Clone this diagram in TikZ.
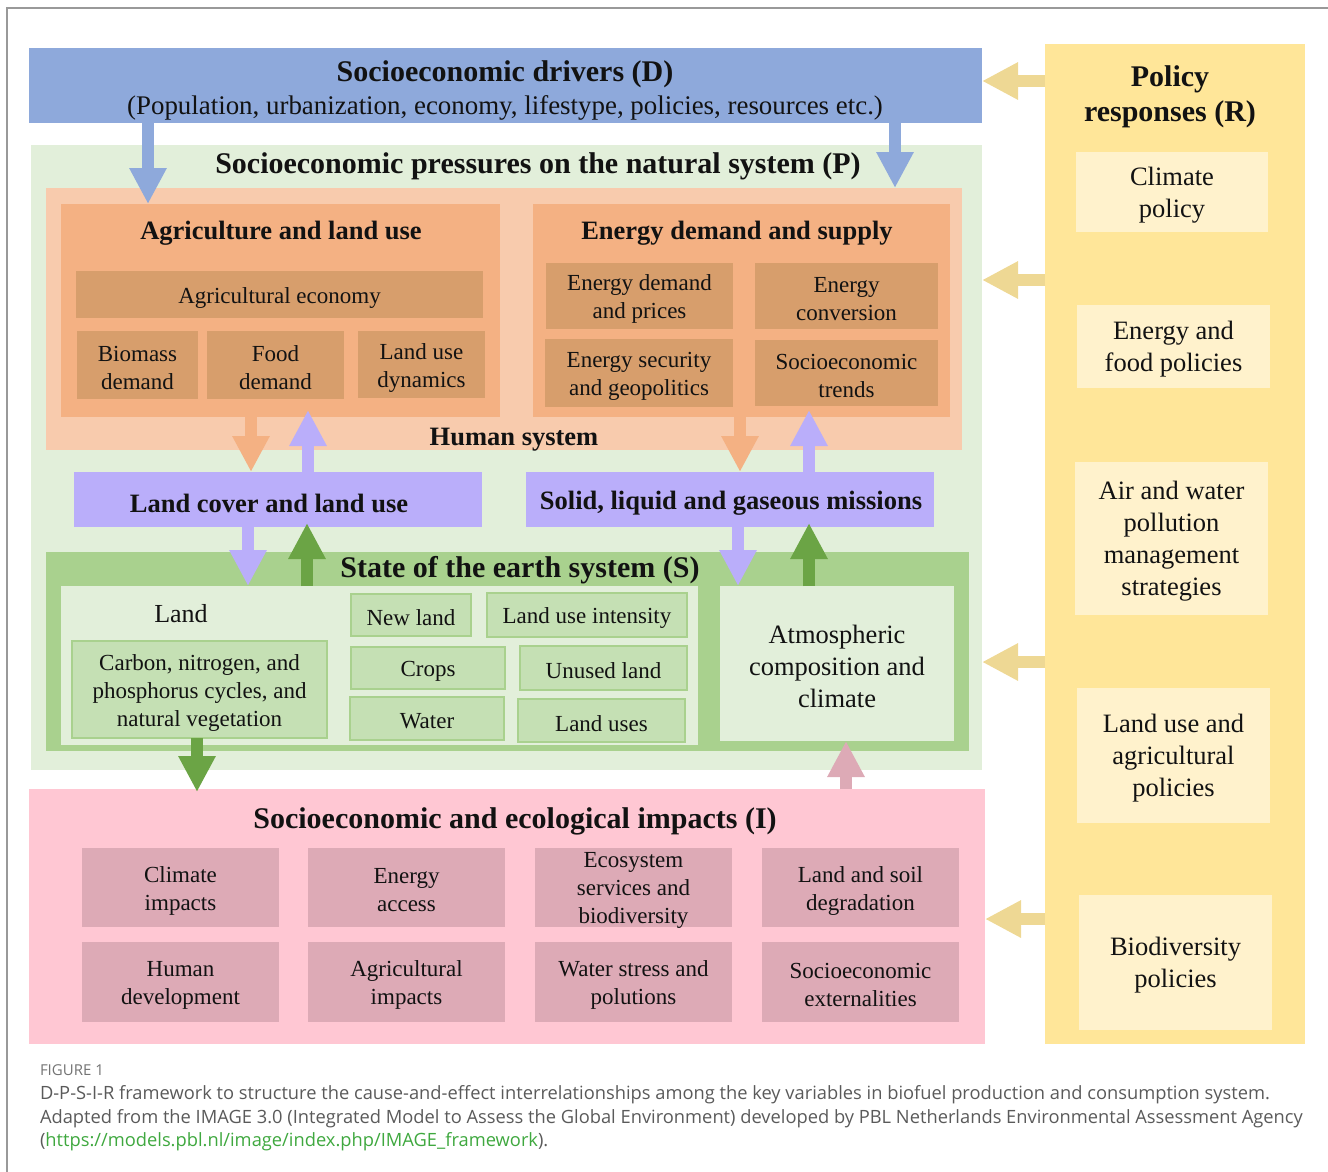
\documentclass[tikz,border=0pt]{standalone}
\usepackage{fontspec}
\setmainfont{Liberation Serif}
\newfontfamily\capfont{Open Sans}
\usetikzlibrary{arrows.meta}
\definecolor{cblue}{HTML}{8EA9DB}
\definecolor{clgreen}{HTML}{E2EFDA}
\definecolor{cpeach}{HTML}{F8CBAD}
\definecolor{corange}{HTML}{F4B183}
\definecolor{cbrown}{HTML}{D79E6C}
\definecolor{cpurple}{HTML}{BAAEFA}
\definecolor{cstate}{HTML}{A9D18E}
\definecolor{cgbox}{HTML}{C5E0B4}
\definecolor{cgarrow}{HTML}{6BA445}
\definecolor{cpink}{HTML}{FFC7D3}
\definecolor{cpinkbox}{HTML}{DDAAB6}
\definecolor{cpol}{HTML}{FFE699}
\definecolor{cpolbox}{HTML}{FFF2CC}
\definecolor{cyarrow}{HTML}{EED894}
\definecolor{clink}{HTML}{3FA83F}
\definecolor{ccap}{HTML}{5A5A5A}
% box: #1 box style, #2 text style, #3 name, #4-#7 corners, #8 text
\newcommand\bx[8]{\node[#1,anchor=north west,minimum width={(#6-#4)*1pt},minimum height={(#7-#5)*1pt}] (#3) at (#4,#5) {};
  \node[#2] (#3t) at ([yshift=-3pt]#3.center) {#8};}
\tikzset{
  every node/.style={inner sep=0pt,outer sep=0pt,align=center,text=black!93},
  smalltxt/.style={font=\fontsize{23}{28}\selectfont},
  midtxt/.style={font=\fontsize{26.5}{32}\selectfont},
  subtitle/.style={font=\fontsize{26.5}{32}\selectfont\bfseries},
  bigtitle/.style={font=\fontsize{30}{35}\selectfont\bfseries},
  brownbox/.style={fill=cbrown},
  greenbox/.style={fill=cgbox,draw=cstate,line width=1.6pt},
  pinkbox/.style={fill=cpinkbox},
  polbox/.style={fill=cpolbox},
  barrow/.style={line width=12pt,-{Triangle[width=35pt,length=36pt]}},
  captxt/.style={anchor=west,font=\capfont\fontsize{18.3}{22}\selectfont,text=ccap},
}
\begin{document}
\begin{tikzpicture}[x=1pt,y=-1pt]
\useasboundingbox (0,0) rectangle (1328,1171);
\begin{scope}
\clip (0,0) rectangle (1328,1171);
\draw[color=black!40,line width=1.5pt] (7,8) rectangle (1360,1200);
\end{scope}
% main boxes
\node[fill=cblue,anchor=north west,minimum width=953pt,minimum height=75pt] (drivers) at (29,48) {};
\node[fill=cpol,anchor=north west,minimum width=260pt,minimum height=1000pt] (policy) at (1045,44) {};
\node[fill=clgreen,anchor=north west,minimum width=951pt,minimum height=625pt] (pbox) at (31,145) {};
\node[fill=cpeach,anchor=north west,minimum width=916pt,minimum height=262pt] (human) at (46,188) {};
\node[fill=corange,anchor=north west,minimum width=439pt,minimum height=213pt] (agri) at (61,204) {};
\node[fill=corange,anchor=north west,minimum width=417pt,minimum height=213pt] (energy) at (533,204) {};
\node[fill=cpurple,anchor=north west,minimum width=408pt,minimum height=55pt] (landcover) at (74,472) {};
\node[fill=cpurple,anchor=north west,minimum width=408pt,minimum height=55pt] (solid) at (526,472) {};
\node[fill=cstate,anchor=north west,minimum width=923pt,minimum height=199pt] (state) at (46,552) {};
\node[fill=clgreen,anchor=north west,minimum width=637pt,minimum height=159pt] (landpanel) at (61,586) {};
\bx{fill=clgreen}{midtxt}{atm}{720}{586}{954}{741}{Atmospheric\\composition and\\climate}
\node[fill=cpink,anchor=north west,minimum width=956pt,minimum height=255pt] (impacts) at (29,789) {};
% titles
\node[bigtitle] (dtitle) at (505,74) {Socioeconomic drivers (D)};
\node[font=\fontsize{26.9}{32}\selectfont] (dsub) at (505,108) {(Population, urbanization, economy, lifestype, policies, resources etc.)};
\node[bigtitle] (ptitle) at (538,166) {Socioeconomic pressures on the natural system (P)};
\node[subtitle] (htitle) at (514,440) {Human system};
\node[subtitle] (atitle) at (281,233) {Agriculture and land use};
\node[subtitle] (etitle) at (737,233) {Energy demand and supply};
\node[subtitle] (lctitle) at (269,503) {Land cover and land use};
\node[subtitle] (sotitle) at (731,503) {Solid, liquid and gaseous missions};
\node[bigtitle] (stitle) at (520,570) {State of the earth system (S)};
\node[bigtitle] (ititle) at (515,821) {Socioeconomic and ecological impacts (I)};
\node[bigtitle] (rtitle) at (1170,97) {Policy\\responses (R)};
\node[font=\fontsize{26}{30}\selectfont] (landlbl) at (181,614) {Land};
% agriculture inner
\bx{brownbox}{smalltxt}{agecon}{76}{271}{483}{318}{Agricultural economy}
\bx{brownbox}{smalltxt}{biomass}{77}{331}{198}{399}{Biomass\\demand}
\bx{brownbox}{smalltxt}{food}{207}{331}{344}{399}{Food\\demand}
\bx{brownbox}{smalltxt}{lud}{358}{331}{485}{398}{Land use\\dynamics}
% energy inner
\bx{brownbox}{smalltxt}{edp}{546}{263}{733}{329}{Energy demand\\and prices}
\bx{brownbox}{smalltxt}{econv}{755}{263}{938}{329}{Energy\\conversion}
\bx{brownbox}{smalltxt}{esec}{545}{339}{733}{407}{Energy security\\and geopolitics}
\bx{brownbox}{smalltxt}{setr}{755}{340}{938}{406}{Socioeconomic\\trends}
% state inner
\bx{greenbox}{smalltxt}{carbon}{72}{641}{327}{738}{Carbon, nitrogen, and\\phosphorus cycles, and\\natural vegetation}
\bx{greenbox}{smalltxt}{newland}{351}{594}{471}{636}{New land}
\bx{greenbox}{smalltxt}{lui}{487}{593}{687}{637}{Land use intensity}
\bx{greenbox}{smalltxt}{crops}{351}{647}{505}{689}{Crops}
\bx{greenbox}{smalltxt}{unused}{520}{646}{687}{690}{Unused land}
\bx{greenbox}{smalltxt}{water}{350}{697}{504}{740}{Water}
\bx{greenbox}{smalltxt}{landuses}{518}{699}{685}{742}{Land uses}
% impacts inner
\bx{pinkbox}{smalltxt}{climimp}{82}{848}{279}{927}{Climate\\impacts}
\bx{pinkbox}{smalltxt}{eacc}{308}{848}{505}{927}{Energy\\access}
\bx{pinkbox}{smalltxt}{ecos}{535}{848}{732}{927}{Ecosystem\\services and\\biodiversity}
\bx{pinkbox}{smalltxt}{lsd}{762}{848}{959}{927}{Land and soil\\degradation}
\bx{pinkbox}{smalltxt}{humdev}{82}{942}{279}{1022}{Human\\development}
\bx{pinkbox}{smalltxt}{agimp}{308}{942}{505}{1022}{Agricultural\\impacts}
\bx{pinkbox}{smalltxt}{wsp}{535}{942}{732}{1022}{Water stress and\\polutions}
\bx{pinkbox}{smalltxt}{sext}{762}{942}{959}{1022}{Socioeconomic\\externalities}
% policy inner
\bx{polbox}{midtxt}{climp}{1076}{152}{1268}{232}{Climate\\policy}
\bx{polbox}{midtxt}{efp}{1077}{305}{1270}{388}{Energy and\\food policies}
\bx{polbox}{midtxt}{awp}{1075}{462}{1268}{615}{Air and water\\pollution\\management\\strategies}
\bx{polbox}{midtxt}{luap}{1077}{688}{1270}{823}{Land use and\\agricultural\\policies}
\bx{polbox}{midtxt}{biop}{1079}{895}{1272}{1030}{Biodiversity\\policies}
% arrows
\draw[barrow,cblue] ([xshift=119pt]drivers.south west) -- ([xshift=87pt]agri.north west);
\draw[barrow,cblue] ([xshift=866pt]drivers.south west) -- ([xshift=849pt]human.north west);
\draw[barrow,corange] ([xshift=190pt]agri.south west) -- ([xshift=177pt]landcover.north west);
\draw[barrow,cpurple] ([xshift=234pt]landcover.north west) -- ([xshift=247pt,yshift=7pt]agri.south west);
\draw[barrow,corange] ([xshift=207pt]energy.south west) -- ([xshift=214pt]solid.north west);
\draw[barrow,cpurple] ([xshift=283pt]solid.north west) -- ([xshift=276pt,yshift=7pt]energy.south west);
\draw[barrow,cpurple] ([xshift=174pt]landcover.south west) -- ([xshift=187pt]landpanel.north west);
\draw[barrow,cgarrow] ([xshift=246pt]landpanel.north west) -- ([xshift=233pt,yshift=4pt]landcover.south west);
\draw[barrow,cpurple] ([xshift=212pt]solid.south west) -- ([xshift=18pt]atm.north west);
\draw[barrow,cgarrow] ([xshift=89pt]atm.north west) -- ([xshift=283pt,yshift=4pt]solid.south west);
\draw[barrow,cgarrow] ([xshift=125pt]carbon.south west) -- ([xshift=168pt,yshift=-3pt]impacts.north west);
\draw[barrow,cpinkbox] ([xshift=817pt]impacts.north west) -- ([xshift=126pt]atm.south west);
\draw[barrow,cyarrow] ([yshift=-37pt]policy.north west) -- ([yshift=-33pt]drivers.north east);
\draw[barrow,cyarrow] ([yshift=-236pt]policy.north west) -- ([yshift=-135pt]pbox.north east);
\draw[barrow,cyarrow] ([yshift=-618pt]policy.north west) -- ([yshift=-517pt]pbox.north east);
\draw[barrow,cyarrow] ([yshift=-875pt]policy.north west) -- ([yshift=-130pt]impacts.north east);
% caption
\node[anchor=west,font=\capfont\fontsize{15}{17}\selectfont,text=black!55] (figlbl) at (40,1070) {FIGURE 1};
\node[captxt] (cap1) at (40,1095) {D-P-S-I-R framework to structure the cause-and-effect interrelationships among the key variables in biofuel production and consumption system.};
\node[captxt] (cap2) at (40,1119) {Adapted from the IMAGE 3.0 (Integrated Model to Assess the Global Environment) developed by PBL Netherlands Environmental Assessment Agency};
\node[captxt] (cap3) at (40,1142) {(\textcolor{clink}{https://models.pbl.nl/image/index.php/IMAGE\_framework}).};
\end{tikzpicture}
\end{document}
